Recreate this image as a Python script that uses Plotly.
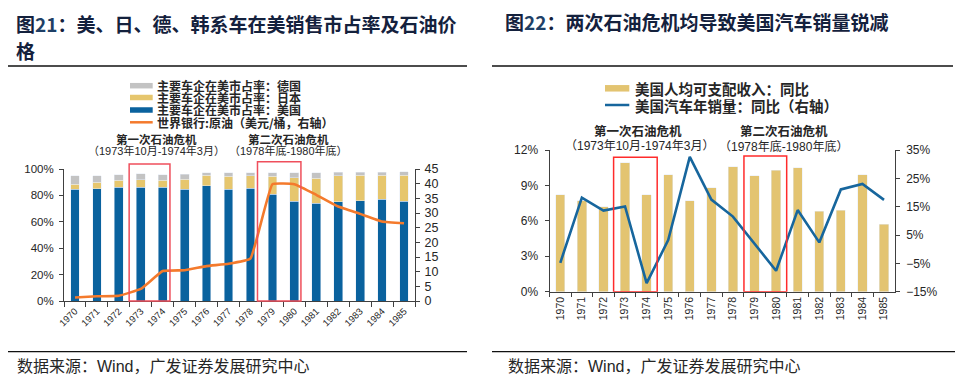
import plotly.graph_objects as go

# ---------------- data ----------------
years = [str(y) for y in range(1970, 1986)]

# left chart: market share of main automakers in US (%)
share_us = [84.8, 85.0, 86.0, 86.3, 86.0, 84.5, 87.5, 84.5, 85.5, 80.7, 75.7, 74.2, 75.2, 75.9, 76.9, 75.7]
share_jp = [3.8, 5.1, 5.3, 5.6, 5.3, 7.9, 7.9, 9.9, 9.4, 13.7, 17.7, 18.7, 19.7, 19.2, 18.2, 19.4]
share_de = [6.3, 4.8, 4.4, 4.5, 4.4, 3.5, 1.8, 2.6, 2.1, 2.8, 3.8, 4.3, 2.8, 2.6, 2.6, 2.9]
oil_price = [1.2, 1.6, 1.8, 4.1, 10.2, 10.5, 11.9, 12.7, 14.5, 39.8, 39.8, 36.2, 32.2, 29.7, 27.1, 26.5]

# right chart
income_yoy = [8.2, 7.7, 7.2, 10.9, 8.2, 9.9, 7.7, 8.8, 10.6, 9.8, 10.3, 10.5, 6.8, 6.9, 9.9, 5.7]
sales_yoy = [-4.8, 18.2, 13.6, 15.1, -12.0, 3.2, 32.6, 17.5, 11.5, 2.1, -7.6, 13.8, 2.4, 21.1, 23.0, 17.4]

W, H = 963, 381
OX, OY = 8, 8   # page offset of the figure (default body margin)
def px(x): return (x - OX) / W
def py(y): return 1 - (y - OY) / H

FONT = "Liberation Sans, Arial, Noto Sans CJK SC"
CJK = "Noto Sans CJK SC, Liberation Sans"
AX = "#404040"
TXT = "#262626"

C_US = "#0a629e"
C_JP = "#e6c66d"
C_DE = "#c3c3c3"
C_OIL = "#f47a2c"
C_INC = "#e3c471"
C_SALES = "#17669d"

fig = go.Figure()

fig.add_trace(go.Bar(x=years, y=share_us, marker_color=C_US, width=0.4, xaxis="x", yaxis="y",
                     name="主要车企在美市占率：美国", showlegend=False))
fig.add_trace(go.Bar(x=years, y=share_jp, marker_color=C_JP, width=0.4, xaxis="x", yaxis="y",
                     name="主要车企在美市占率：日本", showlegend=False))
fig.add_trace(go.Bar(x=years, y=share_de, marker_color=C_DE, width=0.4, xaxis="x", yaxis="y",
                     name="主要车企在美市占率：德国", showlegend=False))
fig.add_trace(go.Scatter(x=years, y=oil_price, mode="lines", xaxis="x", yaxis="y2",
                         line=dict(color=C_OIL, width=2.6, shape="spline", smoothing=0.3),
                         name="世界银行:原油（美元/桶，右轴）", showlegend=False))

fig.add_trace(go.Bar(x=years, y=income_yoy, marker_color=C_INC, width=0.43, xaxis="x2", yaxis="y3",
                     name="美国人均可支配收入：同比", showlegend=False))
fig.add_trace(go.Scatter(x=years, y=sales_yoy, mode="lines", xaxis="x2", yaxis="y4",
                         line=dict(color=C_SALES, width=2.6),
                         name="美国汽车年销量：同比（右轴）", showlegend=False))

def ax(size=11.5, **kw):
    d = dict(showline=True, linecolor=AX, linewidth=1, showgrid=False, zeroline=False,
             ticks="outside", tickcolor=AX, ticklen=4, tickwidth=1, automargin=False,
             tickfont=dict(family=FONT, size=size, color=TXT))
    d.update(kw)
    return d

fig.update_layout(
    width=W, height=H, autosize=False,
    margin=dict(l=0, r=0, t=0, b=0, pad=0, autoexpand=False),
    paper_bgcolor="white", plot_bgcolor="white",
    barmode="stack", showlegend=False,
    xaxis=ax(9.5, domain=[px(64), px(415)], anchor="y", type="category", range=[-0.5, 15.5],
             tickson="boundaries", tickangle=-45, ticklen=4.5),
    yaxis=ax(11.5, domain=[py(301), py(169)], anchor="x", range=[0, 100], tick0=0, dtick=20,
             ticksuffix="%", ticklabelstandoff=3),
    yaxis2=ax(12.5, overlaying="y", side="right", anchor="x", range=[0, 45], tick0=0, dtick=5,
              ticklabelstandoff=2),
    xaxis2=ax(10.5, domain=[px(549.5), px(894.8)], anchor="y3", type="category", range=[-0.5, 15.5],
              tickson="boundaries", tickangle=-90),
    yaxis3=ax(12, domain=[py(291.7), py(150)], anchor="x2", range=[0, 12], tick0=0, dtick=3,
              ticksuffix="%", ticklabelstandoff=4),
    yaxis4=ax(12, overlaying="y3", side="right", anchor="x2", range=[-15, 35], tick0=-15, dtick=10,
              ticksuffix="%", ticklabelstandoff=4),
)

shapes = []
# red crisis boxes
shapes.append(dict(type="rect", xref="x", yref="y domain", x0=2.47, x1=4.33, y0=0, y1=1.038,
                   line=dict(color="#ef4f5c", width=1.5), layer="above"))
shapes.append(dict(type="rect", xref="x", yref="y domain", x0=8.32, x1=10.3, y0=0, y1=1.055,
                   line=dict(color="#ef4f5c", width=1.5), layer="above"))
shapes.append(dict(type="rect", xref="x2", yref="y3", x0=2.47, x1=4.49, y0=0, y1=11.38,
                   line=dict(color="#ff2b2b", width=1.5), layer="above"))
shapes.append(dict(type="rect", xref="x2", yref="y3", x0=8.51, x1=10.49, y0=0, y1=11.49,
                   line=dict(color="#ff2b2b", width=1.5), layer="above"))

# horizontal rules
for x0, x1, y in [(5, 467, 66), (492, 953, 66), (5, 467, 351.7), (492, 956, 351.7)]:
    shapes.append(dict(type="line", xref="paper", yref="paper", x0=px(x0), x1=px(x1), y0=py(y), y1=py(y),
                       line=dict(color="#111111", width=1.3)))

# manual legends
def rect_sw(x0, x1, yc, h, color):
    shapes.append(dict(type="rect", xref="paper", yref="paper", x0=px(x0), x1=px(x1),
                       y0=py(yc + h / 2), y1=py(yc - h / 2), line=dict(width=0), fillcolor=color))
def line_sw(x0, x1, yc, color, w):
    shapes.append(dict(type="line", xref="paper", yref="paper", x0=px(x0), x1=px(x1),
                       y0=py(yc), y1=py(yc), line=dict(color=color, width=w)))

rect_sw(130, 152.7, 85.7, 5.5, C_DE)
rect_sw(130, 152.7, 97.5, 5.5, C_JP)
rect_sw(130, 152.7, 110, 5.5, C_US)
line_sw(130, 152.7, 122.3, C_OIL, 2.5)
rect_sw(605, 629.3, 88.3, 6.5, C_INC)
line_sw(605, 629.3, 105, C_SALES, 2.5)

fig.update_layout(shapes=shapes)

ann = []
def text(x, y, s, size, anchor="left", color=TXT, family=CJK):
    ann.append(dict(xref="paper", yref="paper", x=px(x), y=py(y), text=s, showarrow=False,
                    xanchor=anchor, yanchor="middle", font=dict(family=family, size=size, color=color)))

TITLE_C = "#14213d"
text(14, 23, "<b>图<span style='color:#1e3f66'>21</span>：美、日、德、韩系车在美销售市占率及石油价</b>", 19, family=CJK, color=TITLE_C)
text(14, 51, "<b>格</b>", 19, family=CJK, color=TITLE_C)
text(503, 22, "<b>图<span style='color:#1e3f66'>22</span>：两次石油危机均导致美国汽车销量锐减</b>", 19, family=CJK, color=TITLE_C)

for yc, s in [(85.7, "主要车企在美市占率：德国"), (97.5, "主要车企在美市占率：日本"),
              (110, "主要车企在美市占率：美国"), (122.3, "世界银行:原油（美元/桶，右轴）")]:
    text(155, yc, "<b>" + s + "</b>", 12)
text(633, 88.3, "<b>美国人均可支配收入：同比</b>", 14.5)
text(633, 105, "<b>美国汽车年销量：同比（右轴）</b>", 14.5)

text(156.5, 139, "<b>第一次石油危机</b>", 11.5, anchor="center")
text(156, 151, "（1973年10月-1974年3月）", 11, anchor="center", family=FONT)
text(288.3, 139, "<b>第二次石油危机</b>", 11.5, anchor="center")
text(288.3, 151, "（1978年底-1980年底）", 11, anchor="center", family=FONT)

text(638, 130.7, "<b>第一次石油危机</b>", 12.5, anchor="center")
text(639, 146, "（1973年10月-1974年3月）", 12, anchor="center", family=FONT)
text(784, 130.7, "<b>第二次石油危机</b>", 12.5, anchor="center")
text(783.7, 146, "（1978年底-1980年底）", 12, anchor="center", family=FONT)

text(15, 366, "数据来源：Wind，广发证券发展研究中心", 16, family=FONT)
text(506, 366, "数据来源：Wind，广发证券发展研究中心", 16, family=FONT)

fig.update_layout(annotations=ann)

fig.write_html("out.html")
